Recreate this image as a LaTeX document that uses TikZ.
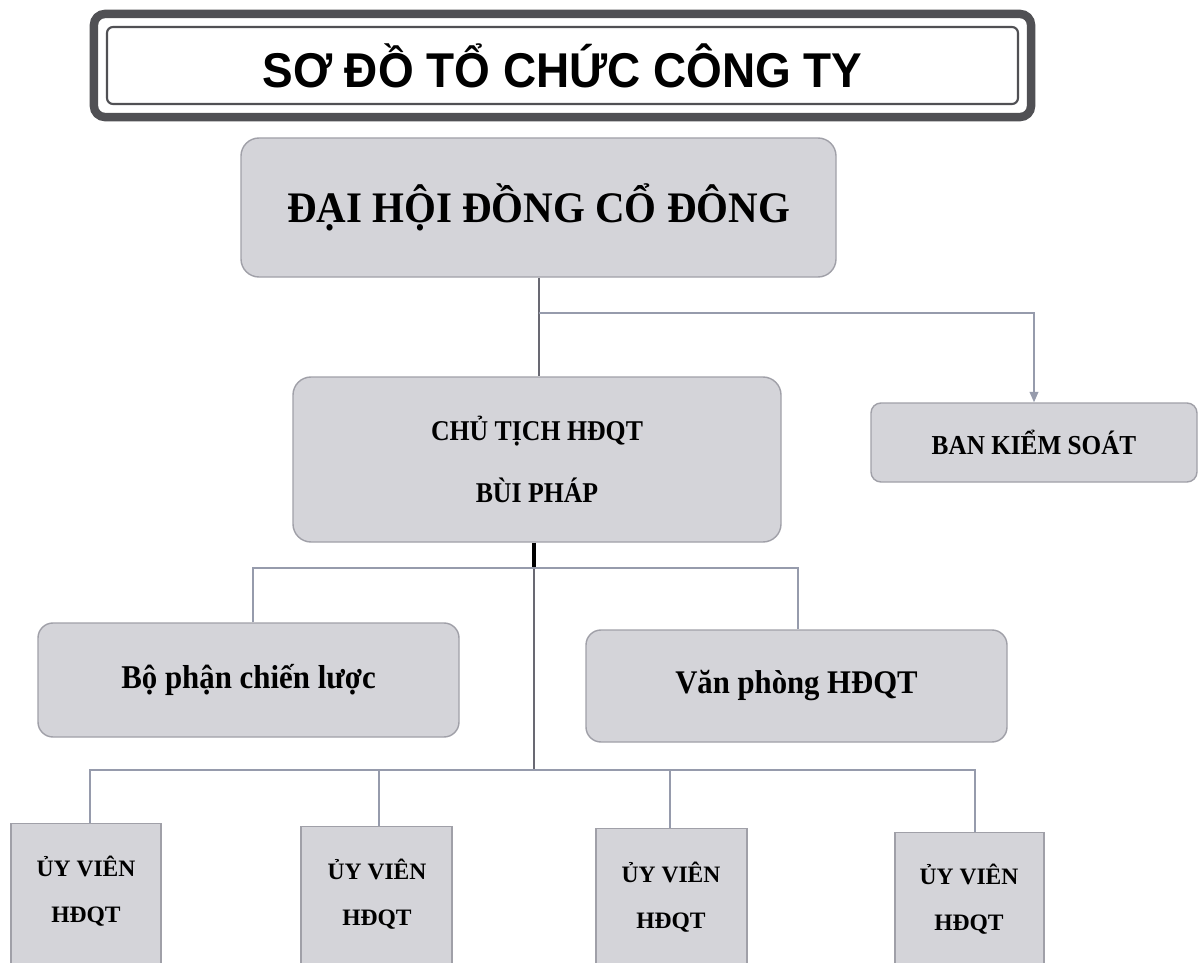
\documentclass[tikz,border=0pt]{standalone}
\usepackage{fontspec}
\setmainfont{Liberation Serif}
\newfontfamily\titlefont{Liberation Sans}
\usetikzlibrary{arrows.meta}
\definecolor{boxfill}{RGB}{212,212,217}
\definecolor{boxline}{RGB}{160,160,168}
\definecolor{connc}{RGB}{150,155,172}
\definecolor{conndark}{RGB}{105,105,115}
\definecolor{framec}{RGB}{80,80,84}
\newcommand{\sq}[2][0.93]{\scalebox{#1}[1]{#2}}
\begin{document}
\begin{tikzpicture}[x=0.02cm,y=-0.02cm,
  wh/.style 2 args={minimum width=#1*0.02cm, minimum height=#2*0.02cm},
  rbox/.style={draw=boxline, fill=boxfill, line width=0.8pt, rounded corners=0.36cm, inner sep=0pt, align=center},
  sbox/.style={draw=boxline, fill=boxfill, line width=0.8pt, inner sep=0pt, anchor=north},
  utext/.style={font=\bfseries\fontsize{13.4}{26}\selectfont, align=center},
  conn/.style={draw=connc, line width=0.9pt},
  connd/.style={draw=conndark, line width=1pt},
  connk/.style={draw=black, line width=1.8pt},
]
\clip (0,0) rectangle (1201,963);
\fill[white] (0,0) rectangle (1201,963);
% title
\node[draw=framec, line width=1.2pt, rounded corners=0.12cm, fill=white, inner sep=0pt,
      wh={911}{77},
      font=\titlefont\bfseries\fontsize{27.8}{32}\selectfont] (title) at (562.5,65.5) {\sq[0.94]{SƠ ĐỒ TỔ CHỨC CÔNG TY}};
\draw[framec, line width=4.8pt, rounded corners=0.22cm]
  ([shift={(-12,-12)}]title.north west) rectangle ([shift={(12,12)}]title.south east);
% boxes
\node[rbox, wh={595}{139}, font=\bfseries\fontsize{24.8}{30}\selectfont] (dhd) at (538.5,207.5) {\sq[0.94]{ĐẠI HỘI ĐỒNG CỔ ĐÔNG}};
\node[rbox, wh={488}{165}, font=\bfseries\fontsize{16.3}{35}\selectfont] (ct) at (537,459.5) {\sq[0.9]{CHỦ TỊCH HĐQT}\\\sq[0.9]{BÙI PHÁP}};
\node[rbox, rounded corners=0.2cm, wh={326}{79}, font=\bfseries\fontsize{15.6}{20}\selectfont] (bks) at (1034,442.5) {\sq[0.92]{BAN KIỂM SOÁT}};
\node[rbox, rounded corners=0.3cm, wh={421}{114}, font=\bfseries\fontsize{18.9}{24}\selectfont] (bp) at (248.5,680) {\sq{Bộ phận chiến lược}};
\node[rbox, rounded corners=0.3cm, wh={421}{112}, font=\bfseries\fontsize{18.8}{24}\selectfont] (vp) at (796.5,686) {\sq{Văn phòng HĐQT}};
\node[sbox, wh={150}{200}] (u1) at (86,823) {};
\node[sbox, wh={151}{200}] (u2) at (376.5,826) {};
\node[sbox, wh={151}{200}] (u3) at (671.5,828) {};
\node[sbox, wh={149}{200}] (u4) at (969.5,832) {};
\node[utext] (t1) at (86,891) {ỦY VIÊN\\HĐQT};
\node[utext] (t2) at (377,894) {ỦY VIÊN\\HĐQT};
\node[utext] (t3) at (671,897) {ỦY VIÊN\\HĐQT};
\node[utext] (t4) at (969,899) {ỦY VIÊN\\HĐQT};
% connectors
\coordinate (j1) at (539,313);
\draw[connd] (dhd.south -| j1) -- (ct.north -| j1);
\draw[conn, -{Triangle[length=6pt,width=5pt]}] (j1) -| (bks.north);
\coordinate (j2) at (534,568);
\coordinate (j3) at (534,770);
\draw[connk] (ct.south -| j2) -- (j2);
\draw[connd] (j2) -- (j3);
\coordinate (b1) at (253,568);
\coordinate (b2) at (798,568);
\draw[conn] (bp.north -| b1) -- (b1) -- (b2) -- (vp.north -| b2);
\coordinate (c1) at (90,770);
\coordinate (c2) at (379,770);
\coordinate (c3) at (670,770);
\coordinate (c4) at (975,770);
\draw[conn] (u1.north -| c1) -- (c1) -- (c4) -- (u4.north -| c4);
\draw[conn] (c2) -- (u2.north -| c2);
\draw[conn] (c3) -- (u3.north -| c3);
\end{tikzpicture}
\end{document}
